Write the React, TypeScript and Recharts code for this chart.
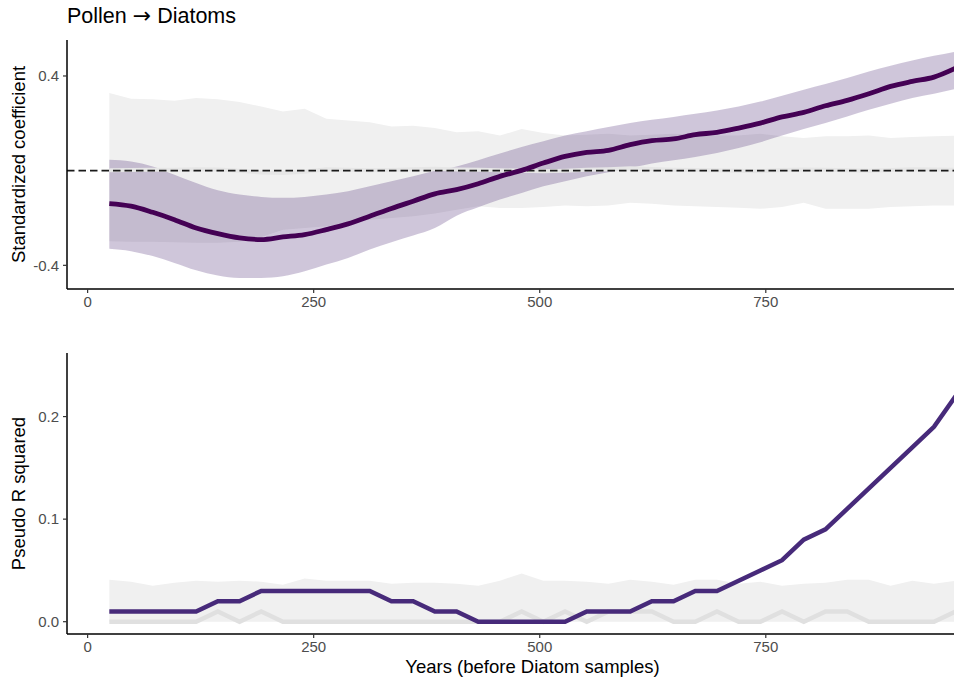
import { ComposedChart, Area, Line, XAxis, YAxis, ReferenceLine } from "recharts";

// sample ages (years before the diatom samples)
const years = [
  24, 48, 72, 96, 120, 144, 168, 192, 216, 240,
  264, 288, 312, 336, 360, 384, 408, 432, 456, 480,
  504, 528, 552, 576, 600, 624, 648, 672, 696, 720,
  744, 768, 792, 816, 840, 864, 888, 912, 936, 960,
];

// top panel: standardized coefficient + CI
const coef = [
  -0.139, -0.15, -0.176, -0.207, -0.242, -0.266, -0.284, -0.291, -0.28, -0.27,
  -0.249, -0.225, -0.193, -0.16, -0.129, -0.098, -0.08, -0.055, -0.024, 0.001,
  0.032, 0.06, 0.077, 0.086, 0.11, 0.127, 0.134, 0.152, 0.162, 0.18,
  0.201, 0.227, 0.246, 0.274, 0.297, 0.325, 0.356, 0.377, 0.395, 0.433,
];
const coefUpper = [
  0.046, 0.039, 0.018, -0.017, -0.052, -0.083, -0.101, -0.111, -0.115, -0.111,
  -0.101, -0.087, -0.066, -0.045, -0.024, 0.0, 0.018, 0.044, 0.072, 0.1,
  0.124, 0.148, 0.166, 0.184, 0.201, 0.215, 0.227, 0.24, 0.254, 0.271,
  0.292, 0.316, 0.342, 0.366, 0.391, 0.419, 0.443, 0.465, 0.485, 0.503,
];
const coefLower = [
  -0.33, -0.34, -0.361, -0.39, -0.421, -0.443, -0.453, -0.453, -0.446, -0.425,
  -0.397, -0.369, -0.333, -0.302, -0.274, -0.242, -0.19, -0.155, -0.122, -0.094,
  -0.066, -0.045, -0.024, -0.007, 0.011, 0.03, 0.044, 0.058, 0.075, 0.096,
  0.12, 0.148, 0.176, 0.201, 0.229, 0.257, 0.283, 0.307, 0.325, 0.345,
];
// null model
const nullCoefMedian = [
  0.002, 0.003, 0.004, 0.004, 0.006, 0.005, 0.0, -0.008, -0.01, -0.005,
  0.006, 0.004, 0.002, 0.003, 0.006, 0.008, 0.005, 0.004, 0.002, 0.0,
  -0.003, 0.0, 0.004, 0.006, 0.01, 0.007, 0.004, 0.003, 0.002, 0.0,
  -0.002, 0.003, 0.005, 0.004, 0.002, 0.0, 0.003, 0.006, 0.005, 0.004,
];
const nullCoefUpper = [
  0.328, 0.304, 0.302, 0.295, 0.307, 0.302, 0.29, 0.271, 0.25, 0.262,
  0.219, 0.212, 0.204, 0.187, 0.19, 0.18, 0.162, 0.166, 0.148, 0.176,
  0.159, 0.148, 0.152, 0.156, 0.148, 0.152, 0.156, 0.152, 0.148, 0.148,
  0.156, 0.145, 0.138, 0.145, 0.145, 0.148, 0.138, 0.142, 0.145, 0.148,
];
const nullCoefLower = [
  -0.298, -0.3, -0.3, -0.302, -0.305, -0.305, -0.3, -0.28, -0.25, -0.242,
  -0.235, -0.221, -0.207, -0.2, -0.193, -0.181, -0.165, -0.15, -0.158, -0.158,
  -0.154, -0.147, -0.15, -0.147, -0.136, -0.14, -0.147, -0.15, -0.154, -0.157,
  -0.161, -0.154, -0.136, -0.161, -0.161, -0.161, -0.154, -0.15, -0.147, -0.147,
];

// bottom panel: pseudo R squared
const r2 = [
  0.01, 0.01, 0.01, 0.01, 0.01, 0.02, 0.02, 0.03, 0.03, 0.03,
  0.03, 0.03, 0.03, 0.02, 0.02, 0.01, 0.01, 0.0, 0.0, 0.0,
  0.0, 0.0, 0.01, 0.01, 0.01, 0.02, 0.02, 0.03, 0.03, 0.04,
  0.05, 0.06, 0.08, 0.09, 0.11, 0.13, 0.15, 0.17, 0.19, 0.22,
];
const nullR2Median = [
  0, 0, 0, 0, 0, 0.01, 0, 0.01, 0, 0,
  0, 0, 0, 0, 0, 0, 0, 0, 0, 0.01,
  0, 0.01, 0, 0.01, 0.01, 0.01, 0, 0, 0.01, 0,
  0, 0.01, 0, 0.01, 0.01, 0, 0, 0, 0, 0.01,
];
const nullR2Upper = [
  0.041, 0.039, 0.035, 0.038, 0.04, 0.039, 0.04, 0.039, 0.036, 0.042,
  0.04, 0.04, 0.04, 0.037, 0.038, 0.038, 0.037, 0.035, 0.04, 0.047,
  0.04, 0.04, 0.039, 0.037, 0.041, 0.039, 0.036, 0.041, 0.041, 0.037,
  0.039, 0.035, 0.037, 0.038, 0.041, 0.041, 0.035, 0.04, 0.037, 0.04,
];

const yearTicks = [0, 250, 500, 750];
const coefTicks = [-0.4, 0.4];
const r2Ticks = [0, 0.1, 0.2];

const topData = years.map((year, i) => ({
  year,
  coef: coef[i],
  band: [coefLower[i], coefUpper[i]],
  nullBand: [nullCoefLower[i], nullCoefUpper[i]],
  nullMedian: nullCoefMedian[i],
}));

const bottomData = years.map((year, i) => ({
  year,
  r2: r2[i],
  nullBand: [0, nullR2Upper[i]],
  nullMedian: nullR2Median[i],
}));

const FONT = "'Liberation Sans', Arial, sans-serif";
const tickStyle = { fill: "#4d4d4d", fontSize: 15, fontFamily: FONT };
const axisLine = { stroke: "#000", strokeWidth: 1.5 };
const tickLine = { stroke: "#333", strokeWidth: 1.2 };

function YTitle({ viewBox, text }: any) {
  const cy = viewBox ? viewBox.y + viewBox.height / 2 : 165;
  return (
    <text
      x={18.5}
      y={cy}
      transform={`rotate(-90, 18.5, ${cy})`}
      textAnchor="middle"
      dominantBaseline="central"
      fontSize={18.5}
      fontFamily={FONT}
      fill="#000"
    >
      {text}
    </text>
  );
}

const xDomain = [-22.8, 1006.8];

export default function App() {
  return (
    <div
      style={{
        position: "absolute",
        left: 0,
        top: 0,
        width: 954,
        height: 685,
        overflow: "hidden",
        background: "#fff",
        fontFamily: FONT,
      }}
    >
      <div
        style={{
          position: "absolute",
          left: 67,
          top: 4,
          fontSize: 21.5,
          lineHeight: "24px",
          color: "#000",
          whiteSpace: "nowrap",
        }}
      >
        Pollen <span style={{ fontFamily: "'DejaVu Sans', sans-serif", fontSize: 22 }}>→</span> Diatoms
      </div>

      <div style={{ position: "absolute", left: 0, top: 0 }}>
        <ComposedChart width={998} height={320} data={topData} margin={{ top: 40, right: 0, bottom: 0, left: 0 }}>
          <XAxis
            dataKey="year"
            type="number"
            domain={xDomain}
            ticks={yearTicks}
            height={31}
            tick={tickStyle}
            tickSize={4}
            tickMargin={3}
            axisLine={axisLine}
            tickLine={tickLine}
            allowDataOverflow
          />
          <YAxis
            type="number"
            domain={[-0.5, 0.552]}
            ticks={coefTicks}
            width={67}
            tick={tickStyle}
            tickSize={4}
            tickMargin={4}
            axisLine={axisLine}
            tickLine={tickLine}
            tickFormatter={(v: number) => v.toFixed(1)}
            allowDataOverflow
            label={(p: any) => <YTitle {...p} text="Standardized coefficient" />}
          />
          <Area
            dataKey="nullBand"
            type="linear"
            stroke="none"
            fill="#f0f0f0"
            fillOpacity={1}
            dot={false}
            activeDot={false}
            isAnimationActive={false}
          />
          <Line
            dataKey="nullMedian"
            type="linear"
            stroke="#e6e6e6"
            strokeWidth={4}
            dot={false}
            activeDot={false}
            isAnimationActive={false}
          />
          <Area
            dataKey="band"
            type="monotone"
            stroke="none"
            fill="#3e1a6d"
            fillOpacity={0.25}
            dot={false}
            activeDot={false}
            isAnimationActive={false}
          />
          <ReferenceLine y={0} stroke="#1a1a1a" strokeWidth={1.6} strokeDasharray="7.5 4" />
          <Line
            dataKey="coef"
            type="monotone"
            stroke="#440154"
            strokeWidth={4.8}
            strokeLinejoin="round"
            dot={false}
            activeDot={false}
            isAnimationActive={false}
          />
        </ComposedChart>
      </div>

      <div style={{ position: "absolute", left: 0, top: 320 }}>
        <ComposedChart width={998} height={365} data={bottomData} margin={{ top: 33, right: 0, bottom: 0, left: 0 }}>
          <XAxis
            dataKey="year"
            type="number"
            domain={xDomain}
            ticks={yearTicks}
            height={51}
            tick={tickStyle}
            tickSize={4}
            tickMargin={3}
            axisLine={axisLine}
            tickLine={tickLine}
            allowDataOverflow
            label={{
              value: "Years (before Diatom samples)",
              position: "insideBottom",
              offset: 12,
              fill: "#000",
              fontSize: 18.5,
              fontFamily: FONT,
            }}
          />
          <YAxis
            type="number"
            domain={[-0.012, 0.262]}
            ticks={r2Ticks}
            width={67}
            tick={tickStyle}
            tickSize={4}
            tickMargin={4}
            axisLine={axisLine}
            tickLine={tickLine}
            tickFormatter={(v: number) => v.toFixed(1)}
            allowDataOverflow
            label={(p: any) => <YTitle {...p} text="Pseudo R squared" />}
          />
          <Area
            dataKey="nullBand"
            type="linear"
            stroke="none"
            fill="#f0f0f0"
            fillOpacity={1}
            dot={false}
            activeDot={false}
            isAnimationActive={false}
          />
          <Line
            dataKey="nullMedian"
            type="linear"
            stroke="#e0e0e0"
            strokeWidth={4.5}
            dot={false}
            activeDot={false}
            isAnimationActive={false}
          />
          <Line
            dataKey="r2"
            type="linear"
            stroke="#472a7a"
            strokeWidth={4.5}
            dot={false}
            activeDot={false}
            isAnimationActive={false}
          />
        </ComposedChart>
      </div>
    </div>
  );
}
